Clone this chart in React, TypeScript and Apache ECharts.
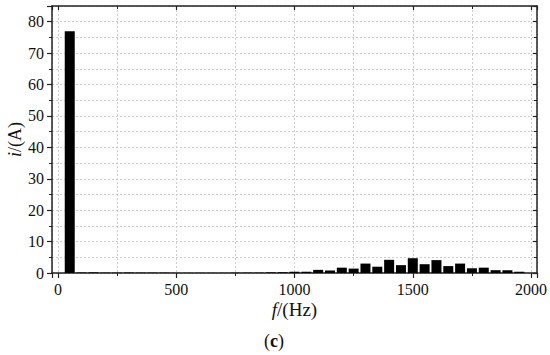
import React, { useEffect, useRef } from "react";
import * as echarts from "echarts";

const frequencies = [
  50, 100, 150, 200, 250, 300, 350, 400, 450, 500, 550, 600, 650, 700, 750, 800, 850, 900, 950,
  1000, 1050, 1100, 1150, 1200, 1250, 1300, 1350, 1400, 1450, 1500, 1550, 1600, 1650, 1700, 1750,
  1800, 1850, 1900, 1950,
];
const amplitudes = [
  77, 0.15, 0.2, 0.1, 0.1, 0.15, 0.1, 0.1, 0.1, 0.05, 0.05, 0.05, 0.05, 0.05, 0.1, 0.1, 0.1, 0.2, 0.25,
  0.4, 0.4, 1.0, 0.8, 1.7, 1.4, 3.0, 2.0, 4.2, 2.5, 4.7, 2.8, 4.1, 2.2, 3.0, 1.5,
  1.7, 0.9, 0.9, 0.4,
];
const xMin = -25;
const xMax = 2025;
const yMin = 0;
const yMax = 85;

const FONT = "'Liberation Serif', 'DejaVu Serif', serif";
const AXIS_COLOR = "#222";
const GRID_COLOR = "#cdcdcd";

export default function App() {
  const ref = useRef<HTMLDivElement>(null);
  useEffect(() => {
    if (!ref.current) return;
    const chart = echarts.init(ref.current, undefined, { renderer: "svg" });
    const splitStyle = { color: GRID_COLOR, width: 1, type: [2, 2] as any };
    const baseX = {
      type: "value" as const,
      min: xMin,
      max: xMax,
      splitNumber: 5,
    };
    const baseY = {
      type: "value" as const,
      min: yMin,
      max: yMax,
      interval: 10,
    };
    chart.setOption({
      animation: false,
      grid: { left: 52, right: 13, top: 6, bottom: 82, containLabel: false, outerBoundsMode: "none" },
      xAxis: [
        {
          ...baseX,
          position: "bottom",
          name: "{i|f}/(Hz)",
          nameLocation: "middle",
          nameGap: 27,
          nameMoveOverlap: false,
          nameTextStyle: {
            fontFamily: FONT,
            fontSize: 19,
            color: "#111",
            rich: { i: { fontStyle: "italic", fontFamily: FONT, fontSize: 19, color: "#111" } },
          },
          axisLine: { show: true, onZero: false, lineStyle: { color: AXIS_COLOR, width: 1.5 } },
          axisTick: { show: true, inside: false, length: 5, lineStyle: { color: AXIS_COLOR, width: 1.2 } },
          minorTick: { show: true, splitNumber: 2, length: 3, lineStyle: { color: AXIS_COLOR, width: 1 } },
          axisLabel: {
            showMinLabel: false,
            showMaxLabel: false,
            margin: 8,
            fontFamily: FONT,
            fontSize: 16,
            color: "#111",
            formatter: (v: number) => String(v),
          },
          splitLine: { show: true, lineStyle: splitStyle },
          minorSplitLine: { show: true, lineStyle: splitStyle },
        },
        {
          ...baseX,
          position: "top",
          axisLine: { show: true, onZero: false, lineStyle: { color: AXIS_COLOR, width: 1.5 } },
          axisTick: { show: true, inside: true, length: 4, lineStyle: { color: AXIS_COLOR, width: 1.2 } },
          minorTick: { show: true, splitNumber: 2, length: 3, lineStyle: { color: AXIS_COLOR, width: 1 } },
          axisLabel: { show: false },
          splitLine: { show: false },
        },
      ],
      yAxis: [
        {
          ...baseY,
          position: "left",
          name: "{i|i}/(A)",
          nameLocation: "middle",
          nameGap: 28,
          nameMoveOverlap: false,
          nameRotate: 90,
          nameTextStyle: {
            fontFamily: FONT,
            fontSize: 18,
            color: "#111",
            rich: { i: { fontStyle: "italic", fontFamily: FONT, fontSize: 18, color: "#111" } },
          },
          axisLine: { show: true, onZero: false, lineStyle: { color: AXIS_COLOR, width: 1.5 } },
          axisTick: { show: true, inside: false, length: 5, lineStyle: { color: AXIS_COLOR, width: 1.2 } },
          minorTick: { show: true, splitNumber: 2, length: 3, lineStyle: { color: AXIS_COLOR, width: 1 } },
          axisLabel: {
            showMaxLabel: false,
            margin: 8,
            fontFamily: FONT,
            fontSize: 16,
            color: "#111",
          },
          splitLine: { show: true, lineStyle: splitStyle },
          minorSplitLine: { show: true, lineStyle: splitStyle },
        },
        {
          ...baseY,
          position: "right",
          axisLine: { show: true, onZero: false, lineStyle: { color: AXIS_COLOR, width: 1.5 } },
          axisTick: { show: true, inside: true, length: 4, lineStyle: { color: AXIS_COLOR, width: 1.2 } },
          minorTick: { show: true, splitNumber: 2, length: 3, lineStyle: { color: AXIS_COLOR, width: 1 } },
          axisLabel: { show: false },
          splitLine: { show: false },
        },
      ],
      series: [
        {
          type: "bar",
          xAxisIndex: 0,
          yAxisIndex: 0,
          barWidth: 10,
          itemStyle: { color: "#000" },
          data: frequencies.map((f, i) => [f, amplitudes[i]]),
        },
      ],
      graphic: [
        {
          type: "text",
          x: 274,
          y: 341,
          style: {
            text: "({b|c})",
            fontFamily: FONT,
            fontSize: 18,
            fill: "#111",
            align: "center",
            verticalAlign: "middle",
            rich: { b: { fontWeight: "bold", fontFamily: FONT, fontSize: 18, fill: "#111" } },
          },
        },
      ],
    });
    return () => chart.dispose();
  }, []);
  return (
    <div
      ref={ref}
      style={{ position: "absolute", left: 0, top: 0, width: 550, height: 355, background: "#fff" }}
    />
  );
}
